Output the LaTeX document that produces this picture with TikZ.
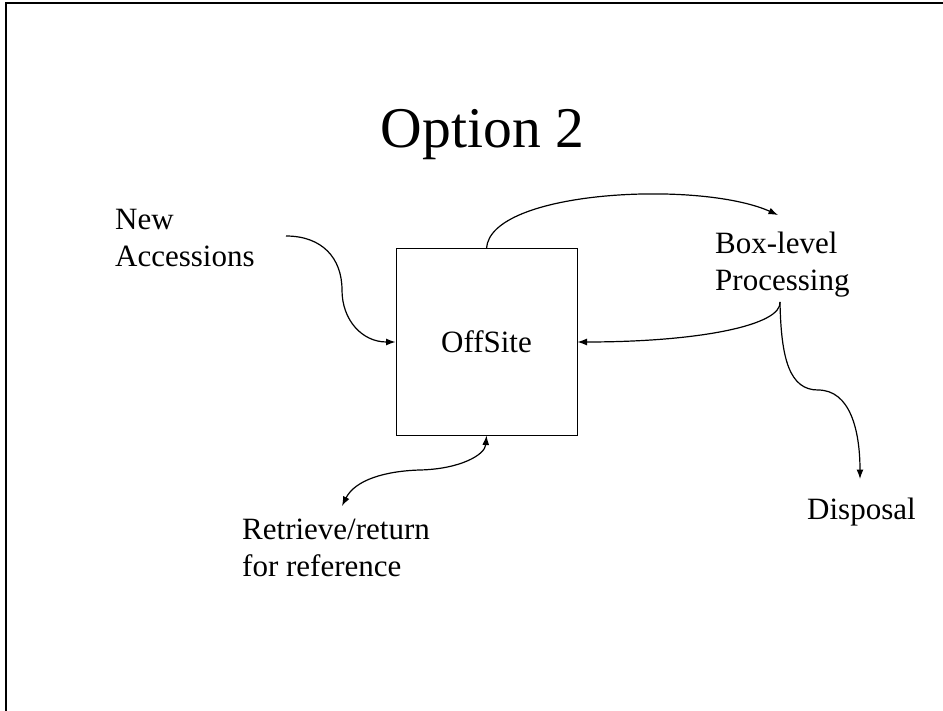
\documentclass[tikz,border=0pt]{standalone}
\usepackage{fontspec}
\setmainfont{Liberation Serif}
\usetikzlibrary{arrows.meta}
\begin{document}
\begin{tikzpicture}[x=1pt,y=-1pt,
  txt/.style={font=\fontsize{31}{37}\selectfont, inner sep=0pt, align=left},
  conn/.style={line width=1.2pt, -{Latex[length=9.5pt,width=7pt]}},
  dconn/.style={line width=1.2pt, {Latex[length=9.5pt,width=7pt]}-{Latex[length=9.5pt,width=7pt]}}]
\useasboundingbox (0,0) rectangle (943,711);
\draw[line width=2pt] (6,711) -- (6,3.5) -- (943,3.5);
\node[font=\fontsize{57.6}{69}\selectfont, anchor=base, inner sep=0pt] (title) at (482.5,148) {Option 2};
\node[draw, line width=1pt, minimum width=181pt, minimum height=186pt, inner sep=0pt,
      font=\fontsize{31}{37}\selectfont] (off) at (486.5,342) {OffSite};
\node[txt, anchor=north west] (acc) at (115,209) {New\\Accessions};
\node[txt, anchor=north west] (blp) at (715,232) {Box-level\\Processing};
\node[txt, anchor=base west] (disp) at (807,519) {Disposal};
\node[txt, anchor=north west] (ret) at (242,519) {Retrieve/return\\for reference};
\coordinate (accout) at (286,236);
\coordinate (blin) at (778,215);
\coordinate (blout) at (780,302);
\coordinate (dispin) at (860,479);
\coordinate (retend) at (342,506);
\draw[conn] (accout) .. controls (322,236) and (342,258) .. (342,290)
  .. controls (342,320) and (362,342) .. (off.west);
\draw[conn] (off.north) .. controls (490,190) and (700,180) .. (blin);
\draw[conn] (blout) .. controls (782,325) and (700,342) .. (off.east);
\draw[conn] (blout) .. controls (781,360) and (790,390) .. (818,390)
  .. controls (850,390) and (860,430) .. (dispin);
\draw[dconn] (retend) .. controls (355,480) and (385,471) .. (420,470)
  .. controls (460,469) and (485,455) .. (off.south);
\end{tikzpicture}
\end{document}
